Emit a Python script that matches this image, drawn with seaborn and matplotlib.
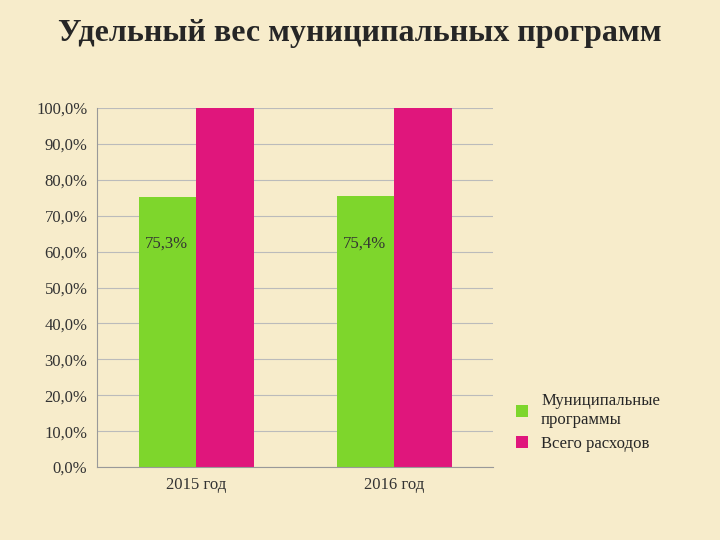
import seaborn as sns
import matplotlib.pyplot as plt
import pandas as pd
from matplotlib.ticker import FuncFormatter

years = ['2015 год', '2016 год']
series = ['Муниципальные\nпрограммы', 'Всего расходов']
muni = [75.3, 75.4]
total = [100.0, 100.0]
labels = ['75,3%', '75,4%']

df = pd.DataFrame({
    'year': years * 2,
    'series': [series[0]] * 2 + [series[1]] * 2,
    'value': muni + total,
})

sns.set_style('white')
plt.rcParams['font.family'] = ['Liberation Serif', 'DejaVu Serif']

bg = '#f7eccb'
fig = plt.figure(figsize=(7.2, 5.4), dpi=100, facecolor=bg)
ax = fig.add_axes([0.135, 0.135, 0.55, 0.665])
ax.set_facecolor(bg)

sns.barplot(data=df, x='year', y='value', hue='series',
            palette=['#7ed62c', '#e0167c'], width=0.58, saturation=1,
            ax=ax, edgecolor='none')

for i, lab in enumerate(labels):
    ax.text(i - 0.15, 60, lab, ha='center', va='bottom', fontsize=12, color='#333333')

ax.set_ylim(0, 100)
ax.set_yticks(range(0, 101, 10))
ax.yaxis.set_major_formatter(FuncFormatter(lambda v, p: f'{v:.1f}%'.replace('.', ',')))
ax.grid(axis='y', color='#bbbbbb', linewidth=0.8)
ax.set_axisbelow(True)
for s in ['top', 'right']:
    ax.spines[s].set_visible(False)
ax.spines['left'].set_color('#999999')
ax.spines['bottom'].set_color('#999999')
ax.set_xlabel('')
ax.set_ylabel('')
ax.tick_params(labelsize=12, colors='#333333')

ax.legend(loc='lower left', bbox_to_anchor=(1.02, 0.0), frameon=False, fontsize=12,
          handlelength=0.7, handleheight=0.7)

fig.suptitle('Удельный вес муниципальных программ', x=0.5, y=0.965,
             fontsize=23, fontweight='bold')

fig.savefig('out.png', dpi=100, facecolor=bg)
